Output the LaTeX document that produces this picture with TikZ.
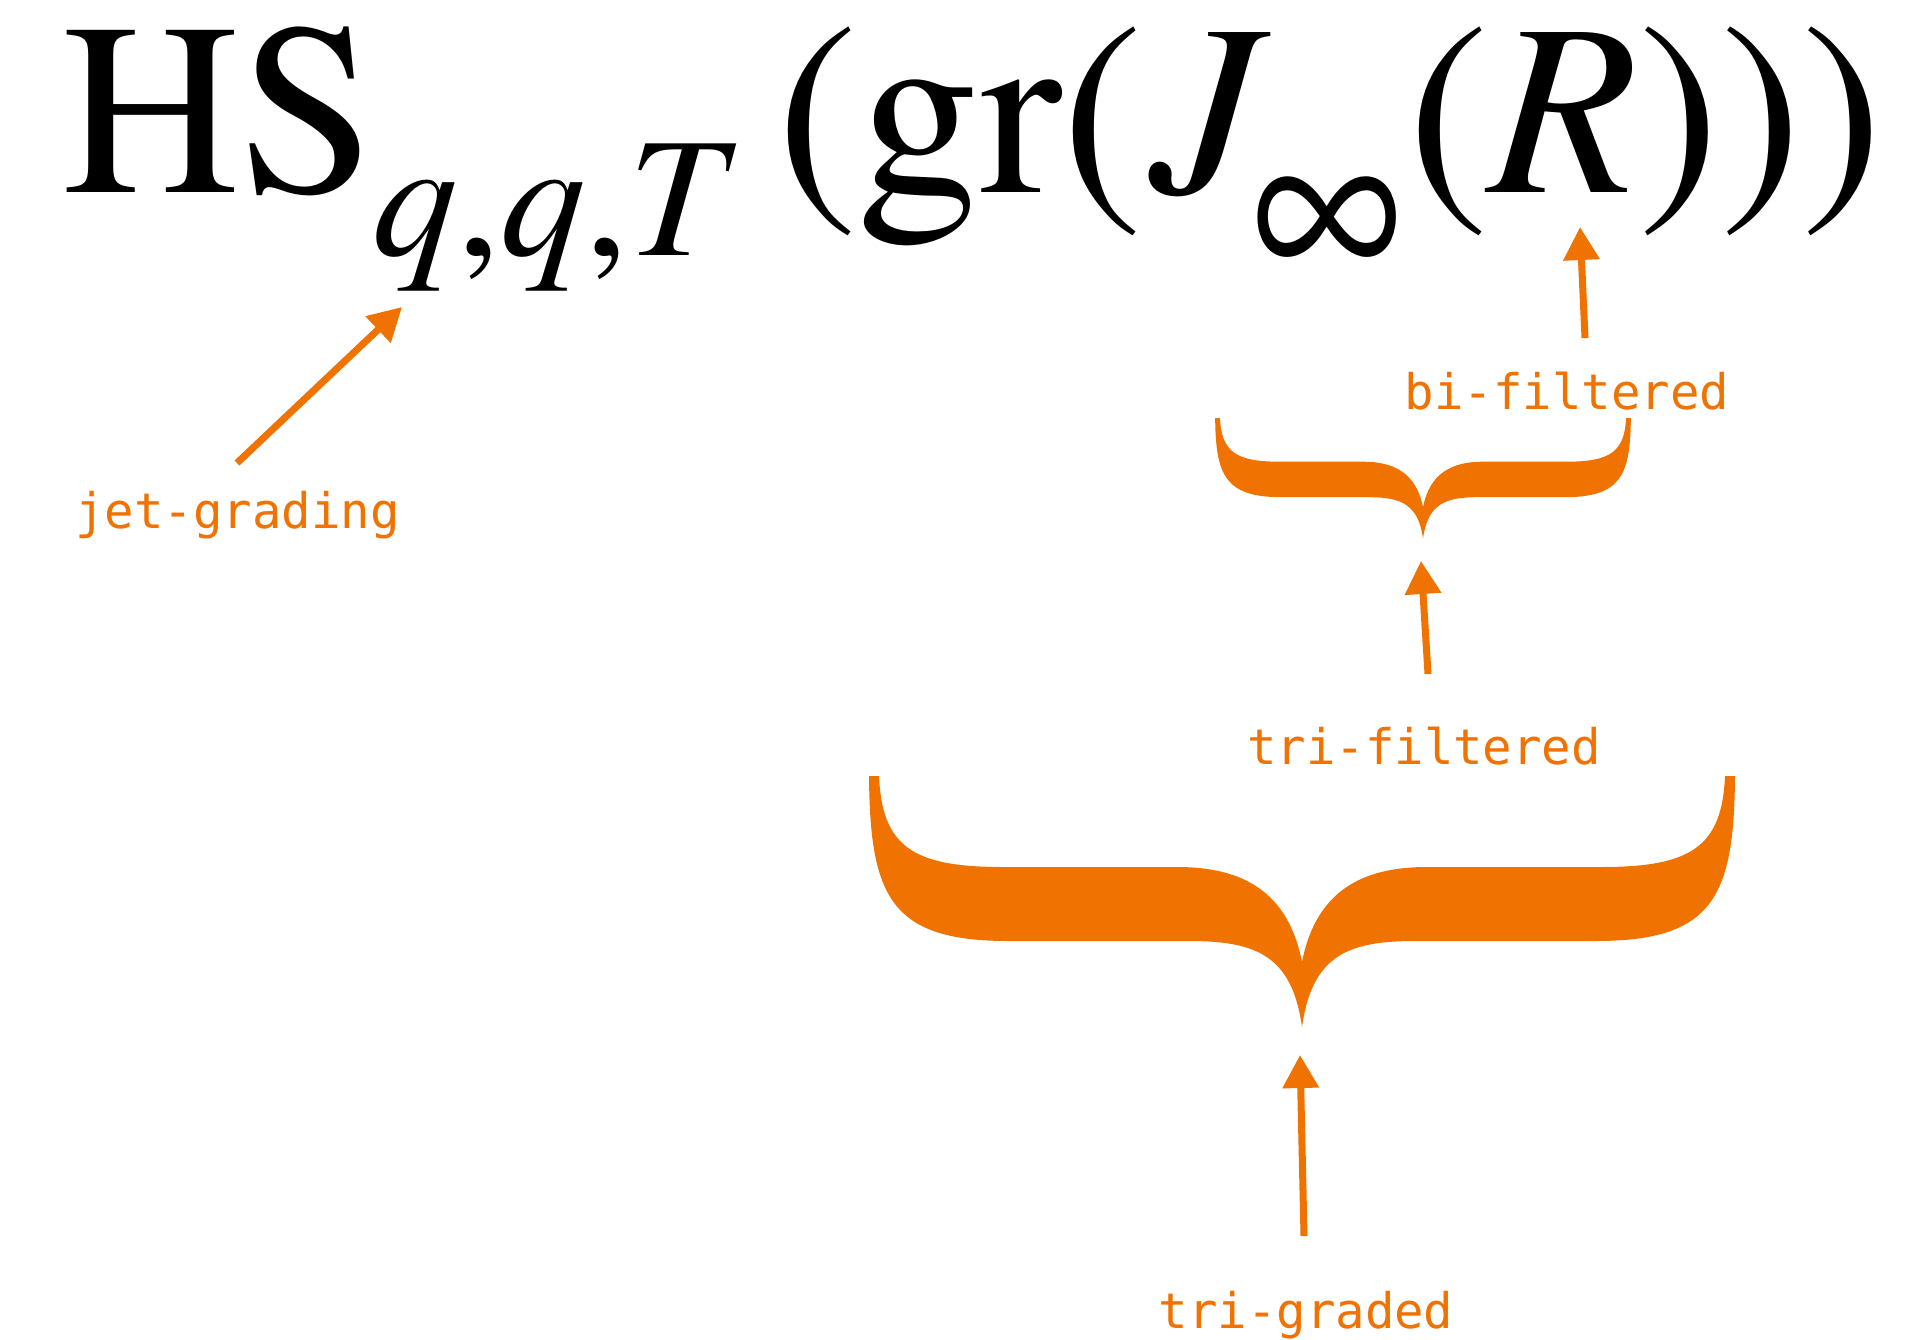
\documentclass[tikz,border=0pt]{standalone}
\usepackage{mathptmx}
\usepackage[no-math]{fontspec}
\usepackage{graphicx}
\newfontfamily\lblfont{DejaVu Sans Mono}
\usetikzlibrary{arrows.meta}
\definecolor{hsorange}{RGB}{240,114,0}
\newcommand\bigf{\fontsize{245}{260}\selectfont}
\newcommand\subf{\fontsize{171}{180}\selectfont}
\newcommand\tmsrm{\usefont{OT1}{ptm}{m}{n}}
\newcommand\tmsit{\usefont{OT1}{ptm}{m}{it}}
\tikzset{
  formula/.style={inner sep=0pt, anchor=base west, text=black},
  lbl/.style={inner sep=0pt, anchor=base, text=hsorange, font=\lblfont\fontsize{49}{55}\selectfont},
  arr/.style={draw=hsorange, line width=7pt, -{Triangle[length=33pt,width=35pt]}},
  pics/curlybrace/.style={code={
    \fill[hsorange] (-433,0) -- (-423,0) .. controls (-420,70) and (-390,91) .. (-300,91)
      -- (-125,91) .. controls (-60,91) and (-14,115) .. (0,186)
      .. controls (14,115) and (60,91) .. (125,91)
      -- (300,91) .. controls (390,91) and (420,70) .. (423,0)
      -- (433,0) .. controls (432,120) and (412,165) .. (294,165)
      -- (113,165) .. controls (45,165) and (10,180) .. (0,251)
      .. controls (-10,180) and (-45,165) .. (-113,165)
      -- (-294,165) .. controls (-412,165) and (-432,120) .. (-433,0) -- cycle;
  }}
}
\begin{document}
\begin{tikzpicture}[x=1pt,y=-1pt]
\useasboundingbox[fill=white] (0,0) rectangle (1905,1340);
% formula
\node[formula, font=\bigf] (hs) at (62,193) {\tmsrm HS};
\node[formula, font=\subf] (sub) at (372,255) {\tmsit q\tmsrm,\tmsit q\tmsrm,\tmsit T};
\node[formula, font=\bigf] (gr) at (776,193) {\tmsrm (gr(};
\node[formula, font=\bigf] (J) at (1150,193) {\tmsit J};
\node[inner sep=0pt, font=\fontsize{203}{210}\selectfont] (inf) at (1327,234) {\scalebox{1.03}[1.33]{$\infty$}};
\node[formula, font=\bigf] (R) at (1407,193) {\tmsrm (\tmsit R\tmsrm )))};
% braces
\pic (smallbrace) [scale=0.48] at (1423,418) {curlybrace};
\pic (bigbrace) at (1302,776) {curlybrace};
% labels
\node[lbl] (jet) at (237.5,528) {jet-grading};
\node[lbl] (bif) at (1567,409) {bi-filtered};
\node[lbl] (trif) at (1424,764) {tri-filtered};
\node[lbl] (trig) at (1306,1328) {tri-graded};
% arrow ends
\coordinate (jetTail) at (237,463);
\coordinate (jetTip) at (402,307);
\coordinate (bifTail) at (1585,338);
\coordinate (bifTip) at (1580,227);
\coordinate (trifTail) at (1428,674);
\coordinate (trifTip) at (1421,561);
\coordinate (trigTail) at (1304,1236);
\coordinate (trigTip) at (1300,1055);
\draw[arr] (jetTail) -- (jetTip);
\draw[arr] (bifTail) -- (bifTip);
\draw[arr] (trifTail) -- (trifTip);
\draw[arr] (trigTail) -- (trigTip);
\end{tikzpicture}
\end{document}
